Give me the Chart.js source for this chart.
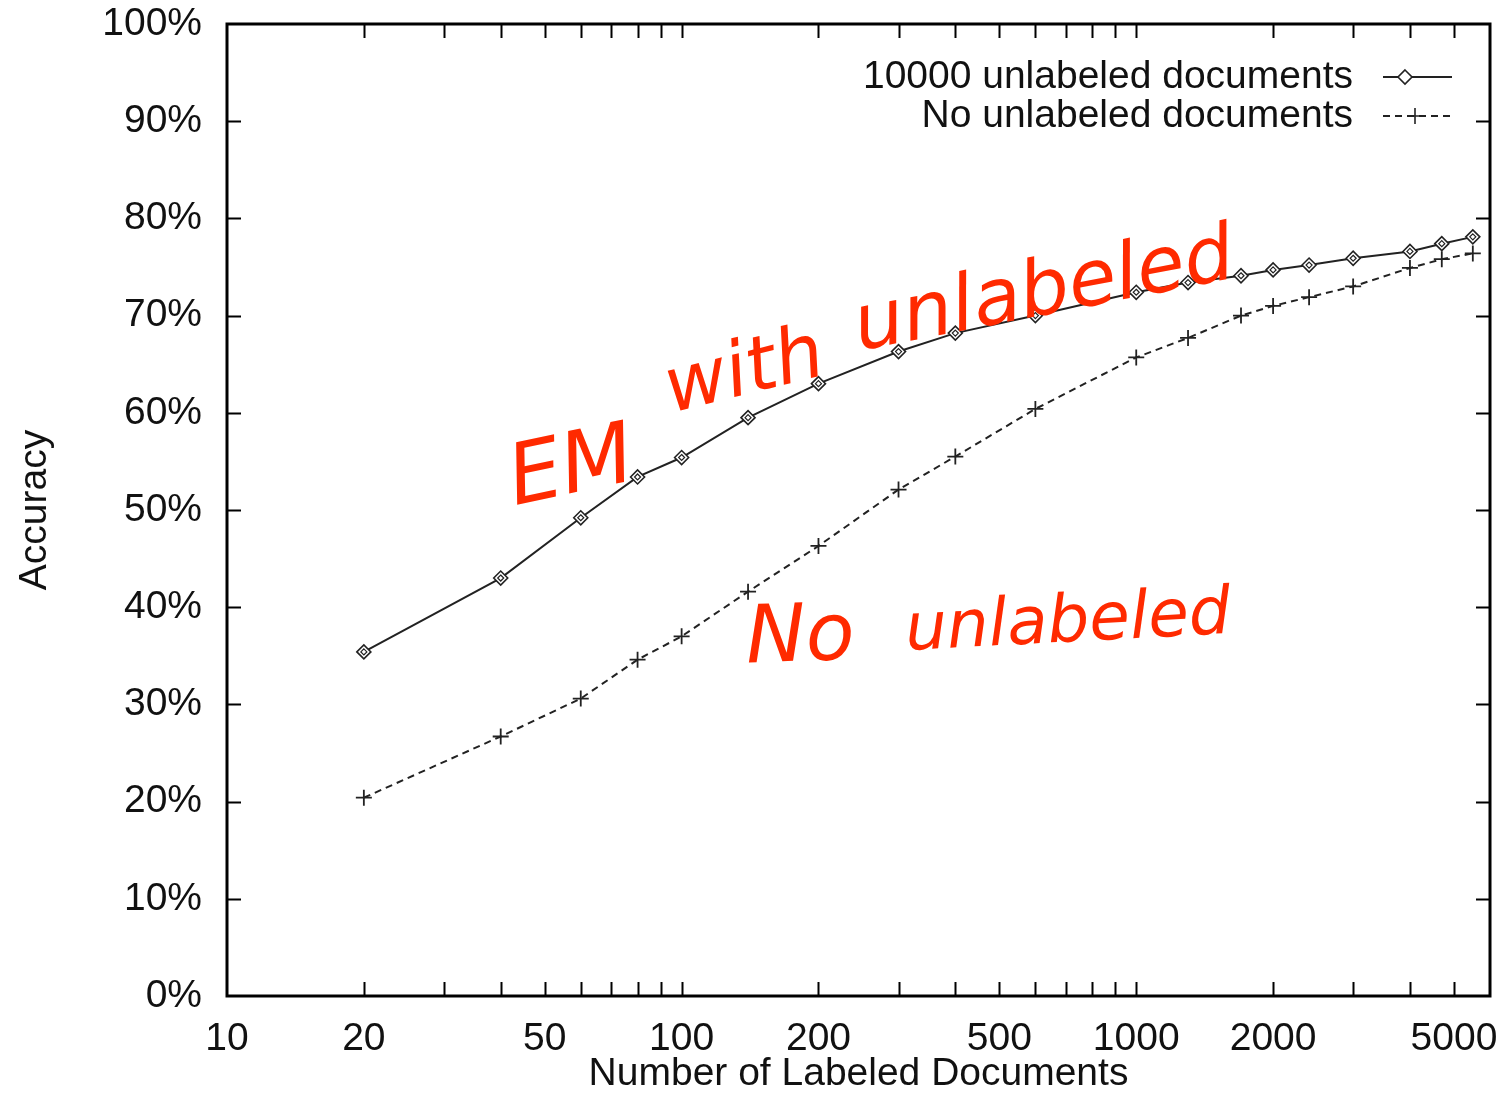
<!DOCTYPE html>
<html>
<head>
<meta charset="utf-8">
<title>Accuracy vs. number of labeled documents</title>
<script src="https://cdn.jsdelivr.net/npm/chart.js@4.4.1/dist/chart.umd.min.js"></script>
<style>
  html, body { margin: 0; padding: 0; background: #fff; }
  #wrap { width: 1500px; height: 1094px; position: relative; }
</style>
</head>
<body>
<div id="wrap"><canvas id="accChart" width="1500" height="1094"></canvas></div>
<script>
// data
const labeledDocs = [20, 40, 60, 80, 100, 140, 200, 300, 400, 600, 1000, 1300, 1700, 2000, 2400, 3000, 4000, 4700, 5500];
const withUnlabeled = [35.4, 43.0, 49.2, 53.4, 55.4, 59.5, 63.0, 66.3, 68.2, 70.0, 72.4, 73.4, 74.1, 74.7, 75.2, 75.9, 76.6, 77.4, 78.1];
const noUnlabeled = [20.4, 26.7, 30.6, 34.6, 37.0, 41.6, 46.3, 52.1, 55.5, 60.4, 65.7, 67.7, 70.0, 71.0, 71.9, 73.0, 74.9, 75.8, 76.4];
const xLabelTicks = [10, 20, 50, 100, 200, 500, 1000, 2000, 5000];
const seriesNames = ['10000 unlabeled documents', 'No unlabeled documents'];

const FONT = '"Liberation Sans", Arial, Helvetica, sans-serif';
const INK = '#222';

// all 1..9 x 10^n positions get a tick, only some get a label
function logTicks(min, max) {
  const out = [];
  for (let d = 10; d <= max; d *= 10) {
    for (let m = 1; m <= 9; m++) {
      const v = m * d;
      if (v >= min && v <= max) out.push({ value: v });
    }
  }
  return out;
}

// gnuplot style frame with inward ticks on all four sides
const framePlugin = {
  id: 'frame',
  afterDraw(chart) {
    const { ctx, chartArea: a, scales } = chart;
    const len = 14;
    ctx.save();
    ctx.strokeStyle = '#000';
    ctx.lineWidth = 2;
    ctx.beginPath();
    scales.x.ticks.forEach(t => {
      const px = Math.round(scales.x.getPixelForValue(t.value)) + 0.5;
      if (px <= a.left + 1 || px >= a.right - 1) return;
      ctx.moveTo(px, a.bottom); ctx.lineTo(px, a.bottom - len);
      ctx.moveTo(px, a.top); ctx.lineTo(px, a.top + len);
    });
    scales.y.ticks.forEach(t => {
      const py = Math.round(scales.y.getPixelForValue(t.value)) + 0.5;
      if (py <= a.top + 1 || py >= a.bottom - 1) return;
      ctx.moveTo(a.left, py); ctx.lineTo(a.left + len, py);
      ctx.moveTo(a.right, py); ctx.lineTo(a.right - len, py);
    });
    ctx.stroke();
    ctx.lineWidth = 3;
    ctx.strokeRect(a.left, a.top, a.right - a.left, a.bottom - a.top);
    ctx.restore();
  }
};

// small inner diamond for the first series, like the original symbol
const innerMarkPlugin = {
  id: 'innerMark',
  afterDatasetsDraw(chart) {
    const { ctx } = chart;
    const meta = chart.getDatasetMeta(0);
    ctx.save();
    ctx.strokeStyle = INK;
    ctx.lineWidth = 1.2;
    meta.data.forEach(p => {
      ctx.beginPath();
      ctx.moveTo(p.x, p.y - 3); ctx.lineTo(p.x + 3, p.y);
      ctx.lineTo(p.x, p.y + 3); ctx.lineTo(p.x - 3, p.y);
      ctx.closePath();
      ctx.stroke();
    });
    ctx.restore();
  }
};

// legend: text on the left, line sample on the right
const keyPlugin = {
  id: 'key',
  afterDraw(chart) {
    const { ctx, chartArea: a } = chart;
    const textRight = a.right - 137;
    const x0 = a.right - 107, x1 = a.right - 38;
    ctx.save();
    ctx.font = '39px ' + FONT;
    ctx.fillStyle = '#111';
    ctx.textAlign = 'right';
    ctx.textBaseline = 'middle';
    chart.data.datasets.forEach((ds, i) => {
      const y = a.top + 53 + i * 39;
      ctx.fillText(ds.label, textRight, y);
      ctx.strokeStyle = INK;
      ctx.lineWidth = 2;
      ctx.setLineDash(ds.borderDash || []);
      ctx.beginPath();
      ctx.moveTo(x0, y); ctx.lineTo(x1, y);
      ctx.stroke();
      ctx.setLineDash([]);
      const mx = i === 0 ? x0 + 22 : x0 + 32;
      ctx.lineWidth = 1.6;
      ctx.beginPath();
      if (i === 0) {
        ctx.fillStyle = '#fff';
        ctx.moveTo(mx, y - 7); ctx.lineTo(mx + 7, y); ctx.lineTo(mx, y + 7); ctx.lineTo(mx - 7, y);
        ctx.closePath(); ctx.fill(); ctx.stroke();
        ctx.fillStyle = '#111';
      } else {
        ctx.moveTo(mx - 8, y); ctx.lineTo(mx + 8, y);
        ctx.moveTo(mx, y - 8); ctx.lineTo(mx, y + 8);
        ctx.stroke();
      }
    });
    ctx.restore();
  }
};

// red handwritten notes, anchored in data space (x docs, y %)
const notes = [
  { text: 'EM', x: 43, y: 50.5, rot: -12, size: 84 },
  { text: 'with', x: 95, y: 60.0, rot: -14, size: 76 },
  { text: 'unlabeled', x: 246, y: 66.4, rot: -11, size: 78 },
  { text: 'No', x: 139, y: 34.3, rot: -2, size: 80 },
  { text: 'unlabeled', x: 312, y: 35.6, rot: -3, size: 66 }
];
const notesPlugin = {
  id: 'notes',
  afterDraw(chart) {
    const { ctx, scales } = chart;
    ctx.save();
    ctx.fillStyle = '#ff2a00';
    ctx.textAlign = 'left';
    ctx.textBaseline = 'alphabetic';
    notes.forEach(n => {
      const px = scales.x.getPixelForValue(n.x);
      const py = scales.y.getPixelForValue(n.y);
      ctx.save();
      ctx.font = 'italic ' + n.size + 'px "DejaVu Sans", sans-serif';
      ctx.translate(px, py);
      ctx.rotate(n.rot * Math.PI / 180);
      ctx.fillText(n.text, 0, 0);
      ctx.restore();
    });
    ctx.restore();
  }
};

const ctx = document.getElementById('accChart').getContext('2d');
const accChart = new Chart(ctx, {
  type: 'line',
  data: {
    datasets: [
      {
        label: seriesNames[0],
        data: labeledDocs.map((x, i) => ({ x: x, y: withUnlabeled[i] })),
        borderColor: INK,
        borderWidth: 2,
        pointStyle: 'rectRot',
        pointRadius: 7,
        pointBorderWidth: 1.6,
        pointBorderColor: INK,
        pointBackgroundColor: '#fff',
        tension: 0
      },
      {
        label: seriesNames[1],
        data: labeledDocs.map((x, i) => ({ x: x, y: noUnlabeled[i] })),
        borderColor: INK,
        borderWidth: 2,
        borderDash: [7, 5],
        pointStyle: 'cross',
        pointRadius: 8,
        pointBorderWidth: 1.8,
        pointBorderColor: INK,
        tension: 0
      }
    ]
  },
  options: {
    responsive: false,
    animation: false,
    events: [],
    layout: { padding: { top: 24, right: 10, bottom: 0, left: 0 } },
    plugins: {
      legend: { display: false },
      tooltip: { enabled: false }
    },
    scales: {
      x: {
        type: 'logarithmic',
        min: 10,
        max: 6000,
        afterBuildTicks: s => { s.ticks = logTicks(10, 6000); },
        afterFit: s => { s.height = 98; s.paddingLeft = 0; s.paddingRight = 0; },
        grid: { display: false },
        border: { display: false },
        ticks: {
          autoSkip: false,
          maxRotation: 0,
          minRotation: 0,
          padding: 12,
          color: '#111',
          font: { family: FONT, size: 39 },
          callback: v => xLabelTicks.includes(v) ? String(v) : ''
        },
        title: {
          display: true,
          text: 'Number of Labeled Documents',
          color: '#111',
          padding: { top: 0, bottom: 0 },
          font: { family: FONT, size: 39, lineHeight: 1.0 }
        }
      },
      y: {
        min: 0,
        max: 100,
        afterFit: s => { s.width = 227; s.paddingTop = 0; s.paddingBottom = 0; },
        grid: { display: false },
        border: { display: false },
        ticks: {
          stepSize: 10,
          padding: 17,
          color: '#111',
          font: { family: FONT, size: 39 },
          callback: v => v + '%'
        },
        title: {
          display: true,
          text: 'Accuracy',
          color: '#111',
          padding: { top: 12, bottom: 0 },
          font: { family: FONT, size: 39 }
        }
      }
    }
  },
  plugins: [framePlugin, innerMarkPlugin, keyPlugin, notesPlugin]
});
</script>
</body>
</html>
